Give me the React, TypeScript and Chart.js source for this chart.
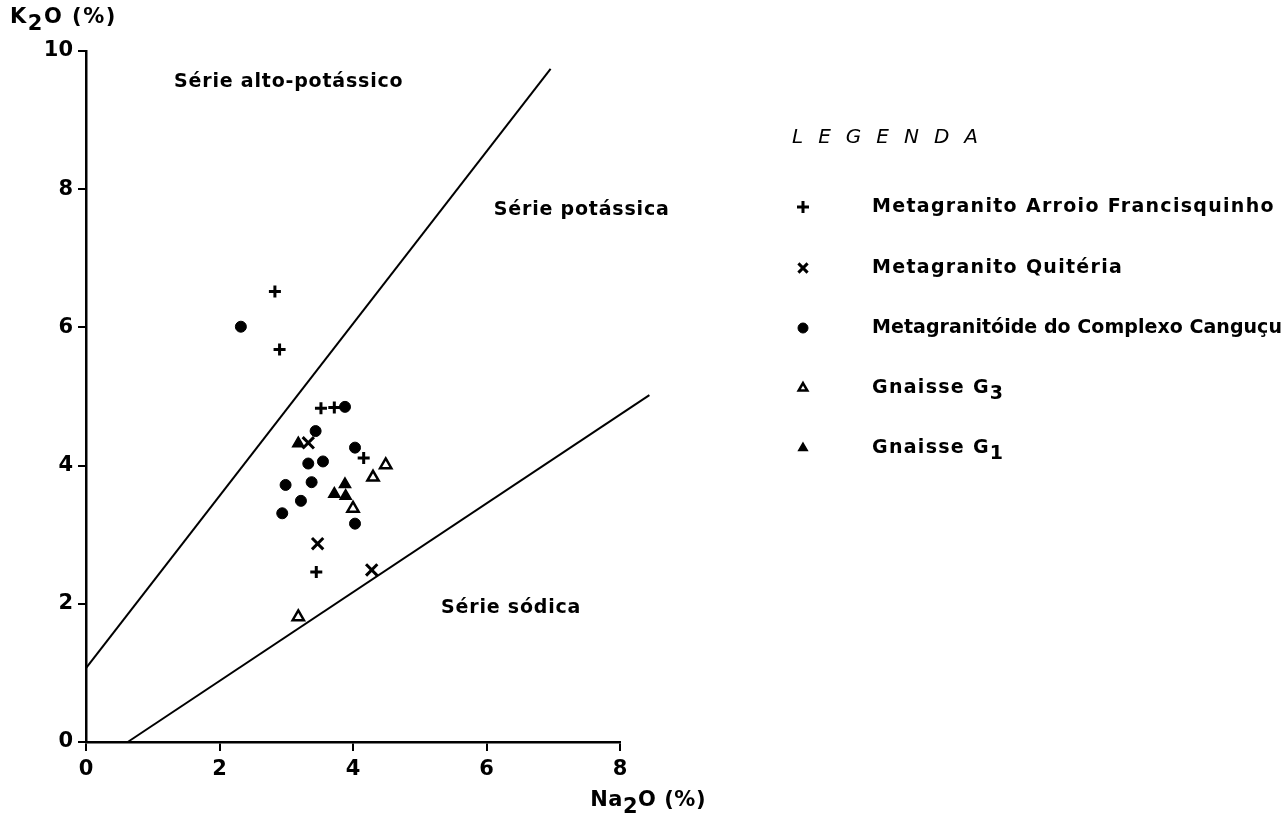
import React, { useEffect, useRef } from 'react';
import { Chart, registerables } from 'chart.js';
import { drawPoint } from 'chart.js/helpers';

Chart.register(...registerables);

// K2O versus Na2O (wt %) for the granitoid samples
const arroioNa = [2.83, 2.9, 3.52, 3.72, 4.16, 3.45];
const arroioK = [6.52, 5.68, 4.83, 4.84, 4.11, 2.46];
const quiteriaNa = [3.33, 3.47, 4.28];
const quiteriaK = [4.33, 2.87, 2.49];
const cangucuNa = [2.32, 3.88, 3.44, 4.03, 3.33, 3.55, 2.99, 3.38, 3.22, 2.94, 4.03];
const cangucuK = [6.01, 4.85, 4.5, 4.26, 4.03, 4.06, 3.72, 3.76, 3.49, 3.31, 3.16];
const g3Na = [4.49, 4.3, 4.0, 3.18];
const g3K = [4.01, 3.83, 3.38, 1.81];
const g1Na = [3.18, 3.88, 3.72, 3.89];
const g1K = [4.32, 3.73, 3.59, 3.56];

// Field boundaries between the series
const upperBoundNa = [0, 6.96];
const upperBoundK = [1.07, 9.74];
const lowerBoundNa = [0.625, 8.44];
const lowerBoundK = [0, 5.02];

const xTicks = [0, 2, 4, 6, 8];
const yTicks = [0, 2, 4, 6, 8, 10];

const seriesLabels = [
  'Metagranito Arroio Francisquinho',
  'Metagranito Quitéria',
  'Metagranitóide do Complexo Canguçu',
  'Gnaisse G₃',
  'Gnaisse G₁',
];

const fieldLabels = ['Série alto-potássico', 'Série potássica', 'Série sódica'];
const fieldLabelNa = [1.32, 6.11, 5.32];
const fieldLabelK = [9.55, 7.7, 1.94];

const FONT = '"DejaVu Sans", "Liberation Sans", sans-serif';
const INK = '#000';
const SUBS = '₀₁₂₃₄₅₆₇₈₉';

const zip = (xs: number[], ys: number[]) => xs.map((x, i) => ({ x, y: ys[i] }));

type Seg = { t: string; sub: boolean };
function segments(text: string): Seg[] {
  const out: Seg[] = [];
  for (const ch of text) {
    const idx = SUBS.indexOf(ch);
    const sub = idx >= 0;
    const c = sub ? String(idx) : ch;
    const last = out[out.length - 1];
    if (last && last.sub === sub) last.t += c;
    else out.push({ t: c, sub });
  }
  return out;
}

type TextOpts = {
  size: number;
  weight?: string;
  spacing?: number;
  align?: 'left' | 'right' | 'center';
  italic?: boolean;
  maxWidth?: number;
};
function drawText(ctx: CanvasRenderingContext2D, text: string, x: number, y: number, o: TextOpts) {
  ctx.save();
  ctx.font = `${o.italic ? 'italic ' : ''}${o.weight ?? 'bold'} ${o.size}px ${FONT}`;
  ctx.textBaseline = 'middle';
  ctx.textAlign = 'left';
  ctx.fillStyle = INK;
  const parts = segments(text);
  const nChars = Array.from(text).length;
  let spacing = o.spacing ?? 0;
  const measure = () => {
    (ctx as any).letterSpacing = `${spacing}px`;
    return parts.map((p) => ctx.measureText(p.t).width);
  };
  let widths = measure();
  let total = widths.reduce((a, b) => a + b, 0);
  if (o.maxWidth && total > o.maxWidth) {
    spacing -= (total - o.maxWidth) / nChars;
    widths = measure();
    total = widths.reduce((a, b) => a + b, 0);
  }
  let cx = o.align === 'right' ? x - total : o.align === 'center' ? x - total / 2 : x;
  parts.forEach((p, i) => {
    ctx.fillText(p.t, cx, p.sub ? y + o.size * 0.3 : y);
    cx += widths[i];
  });
  ctx.restore();
}

const annotations = {
  id: 'annotations',
  afterDraw(chart: any) {
    const { ctx, scales } = chart;
    const xs = scales.x;
    const ys = scales.y;

    // axis titles
    drawText(ctx, 'K₂O (%)', 10, 18, { size: 21, spacing: 1.5 });
    drawText(ctx, 'Na₂O (%)', 706, 801, { size: 21, spacing: 0.5, align: 'right' });

    // field names
    fieldLabels.forEach((t, i) => {
      drawText(ctx, t, xs.getPixelForValue(fieldLabelNa[i]), ys.getPixelForValue(fieldLabelK[i]), {
        size: 19,
        spacing: 0.8,
      });
    });

    // legend
    drawText(ctx, 'LEGENDA', 792, 138, { size: 20, spacing: 15, italic: true, weight: 'normal' });
    const rowY = [207, 268, 328, 388, 448];
    chart.data.datasets
      .filter((d: any) => !d.isBoundary)
      .forEach((d: any, i: number) => {
        ctx.save();
        ctx.fillStyle = d.backgroundColor;
        ctx.strokeStyle = d.borderColor;
        ctx.lineWidth = d.borderWidth;
        drawPoint(ctx, { pointStyle: d.pointStyle, radius: d.legendRadius, borderWidth: d.borderWidth, rotation: 0 } as any, 803, rowY[i]);
        ctx.restore();
        drawText(ctx, seriesLabels[i], 872, rowY[i], { size: 19, spacing: 1.3, maxWidth: 410 });
      });
  },
};

const marker = (label: string, xs: number[], ys: number[], style: string, r: number, fill: string, bw: number, lr: number) => ({
  type: 'scatter' as const,
  label,
  data: zip(xs, ys),
  pointStyle: style,
  pointRadius: r,
  pointHoverRadius: r,
  backgroundColor: fill,
  borderColor: INK,
  borderWidth: bw,
  pointBorderWidth: bw,
  legendRadius: lr,
  showLine: false,
});

const boundary = (xs: number[], ys: number[]) => ({
  type: 'line' as const,
  data: zip(xs, ys),
  borderColor: INK,
  borderWidth: 2,
  pointRadius: 0,
  showLine: true,
  fill: false,
  clip: false,
  isBoundary: true,
});

export default function App() {
  const ref = useRef<HTMLCanvasElement>(null);

  useEffect(() => {
    document.body.style.margin = '0';
    const canvas = ref.current!;
    const chart = new Chart(canvas, {
      type: 'scatter',
      data: {
        datasets: [
          boundary(upperBoundNa, upperBoundK),
          boundary(lowerBoundNa, lowerBoundK),
          marker(seriesLabels[0], arroioNa, arroioK, 'cross', 6, INK, 3, 6),
          marker(seriesLabels[1], quiteriaNa, quiteriaK, 'crossRot', 8, INK, 3, 6.5),
          marker(seriesLabels[2], cangucuNa, cangucuK, 'circle', 5.5, INK, 1, 5),
          marker(seriesLabels[3], g3Na, g3K, 'triangle', 6.5, '#fff', 2.5, 5),
          marker(seriesLabels[4], g1Na, g1K, 'triangle', 6.5, INK, 1.5, 5),
        ] as any,
      },
      options: {
        animation: false,
        responsive: false,
        events: [],
        layout: { padding: { left: 0, top: 51, right: 668, bottom: 0 } },
        plugins: { legend: { display: false }, tooltip: { enabled: false } },
        scales: {
          x: {
            type: 'linear',
            min: 0,
            max: 8,
            afterBuildTicks: (s: any) => {
              s.ticks = xTicks.map((v) => ({ value: v }));
            },
            afterFit: (s: any) => {
              s.height = 76;
            },
            ticks: { color: INK, font: { family: FONT, size: 21, weight: 'bold' }, padding: 6 },
            grid: { drawOnChartArea: false, drawTicks: true, tickLength: 9, color: INK, lineWidth: 2 },
            border: { display: true, color: INK, width: 2.5 },
          },
          y: {
            type: 'linear',
            min: 0,
            max: 10,
            afterBuildTicks: (s: any) => {
              s.ticks = yTicks.map((v) => ({ value: v }));
            },
            afterFit: (s: any) => {
              s.width = 86;
            },
            ticks: { color: INK, font: { family: FONT, size: 21, weight: 'bold' }, padding: 5 },
            grid: { drawOnChartArea: false, drawTicks: true, tickLength: 8, color: INK, lineWidth: 2 },
            border: { display: true, color: INK, width: 2.5 },
          },
        },
      },
      plugins: [annotations],
    });
    return () => chart.destroy();
  }, []);

  return (
    <div style={{ position: 'absolute', left: 0, top: 0, width: 1288, height: 818, background: '#fff' }}>
      <canvas ref={ref} width={1288} height={818} style={{ display: 'block' }} />
    </div>
  );
}
